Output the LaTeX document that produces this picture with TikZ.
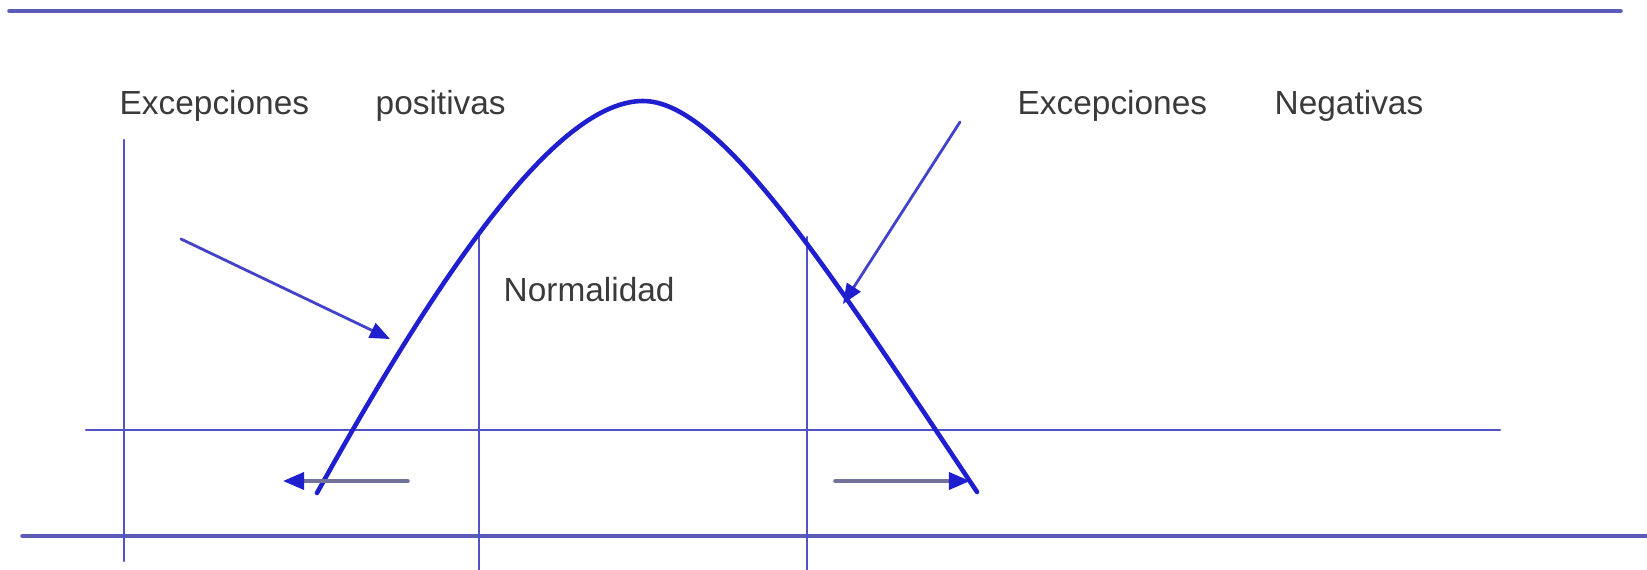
\documentclass[tikz,border=0pt]{standalone}
\usepackage{fontspec}
\setmainfont{Liberation Sans}
\usepackage{tikz}
\usetikzlibrary{arrows.meta,positioning}
\definecolor{lineblue}{HTML}{5252C8}
\definecolor{curveblue}{HTML}{1F1FD0}
\definecolor{arrowgray}{HTML}{72729A}
\definecolor{textgray}{HTML}{3A3A3A}

\begin{document}
\begin{tikzpicture}[
		x=0.01cm,y=-0.01cm,
		line cap=round,
		line join=round,
		guideline/.style={draw=lineblue, line width=0.7pt},
		axisline/.style={draw=lineblue!80!gray, line width=1pt},
		bellcurve/.style={draw=curveblue, line width=1.3pt},
		pointer/.style={-{Triangle[length=2mm,width=1.6mm,color=curveblue]}, draw=lineblue!70!curveblue, line width=0.8pt},
		sideflow/.style={-{Triangle[length=2.1mm,width=1.7mm,color=curveblue]}, draw=arrowgray, line width=1pt},
		curvetext/.style={font=\fontsize{9.5}{11}\selectfont, text=textgray, inner sep=0pt, anchor=base west}
	]
	\useasboundingbox (0,0) rectangle (1647,570);
	
	% Frame lines
	\draw[axisline] (9,11) -- (1621,11);
	\draw[axisline] (22,536) -- (1647,536);
	\draw[guideline] (86,430) -- (1500,430);
	\draw[guideline] (124,140) -- (124,561);
	\draw[guideline] (479,232) -- (479,570);
	\draw[guideline] (807,237) -- (807,570);
	
	% Bell curve
	\coordinate (bellleft)  at (317,493);
	\coordinate (belltop)   at (643,101);
	\coordinate (bellright) at (977,492);
	\draw[bellcurve] (bellleft) .. controls (447,259) and (560,101) .. (belltop)
		.. controls (720,101) and (827,267) .. (bellright);
	
	% Labels
	\node[curvetext] (excpos) at (119,115) {Excepciones};
	\node[curvetext] (pos)    at (375,115) {positivas};
	\node[curvetext] (normal) at (503,302) {Normalidad};
	\node[curvetext] (excneg) at (1017,115) {Excepciones};
	\node[curvetext] (neg)    at (1274,115) {Negativas};
	
	% Pointers to the tails
	\coordinate (posfrom) at (181,239);
	\coordinate (posto)   at (390,339);
	\coordinate (negfrom) at (960,122);
	\coordinate (negto)   at (843,304);
	\draw[pointer] (posfrom) -- (posto);
	\draw[pointer] (negfrom) -- (negto);
	
	% Outward arrows
	\coordinate (leftfrom)  at (408,481);
	\coordinate (leftto)    at (283,481);
	\coordinate (rightfrom) at (835,481);
	\coordinate (rightto)   at (970,481);
	\draw[sideflow] (leftfrom) -- (leftto);
	\draw[sideflow] (rightfrom) -- (rightto);
	
\end{tikzpicture}
\end{document}
